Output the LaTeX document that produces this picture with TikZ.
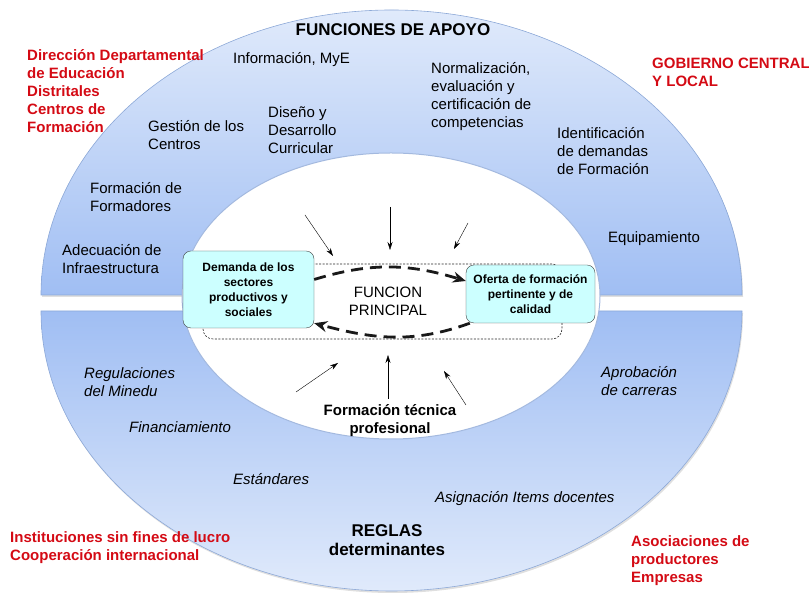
\documentclass[tikz,border=0pt]{standalone}
\usepackage{fontspec}
\setmainfont{Liberation Sans}
\usepackage{xcolor}
\usepackage{tikz}
\usetikzlibrary{arrows.meta, shadows}

\definecolor{ringlight}{RGB}{224,234,251}
\definecolor{ringdark}{RGB}{160,190,243}
\definecolor{ringedge}{RGB}{140,168,215}
\definecolor{boxfill}{RGB}{204,255,255}
\definecolor{actor}{RGB}{212,10,20}

\begin{document}
\begin{tikzpicture}[
    x=1pt, y=1pt,
    supportfont/.style={font=\fontsize{15}{18}\selectfont, align=left, anchor=west, inner sep=0pt},
    rulefont/.style={font=\fontsize{15}{18}\selectfont\itshape, align=left, anchor=west, inner sep=0pt},
    actorlabel/.style={font=\fontsize{15}{18}\selectfont\bfseries, text=actor, align=left, anchor=west, inner sep=0pt},
    headline/.style={font=\fontsize{17}{19}\selectfont\bfseries, align=center, inner sep=0pt},
    flowbox/.style={rectangle, rounded corners=8pt, draw=black!75, fill=boxfill, align=center, font=\fontsize{12}{15}\selectfont\bfseries, inner sep=2pt},
    ring/.style={draw=ringedge, line width=0.6pt},
    arrow/.style={->, >={Stealth[length=8pt,width=5pt]}, thin},
    flowarrow/.style={->, >={Stealth[length=13pt,width=11pt]}, line width=2.8pt, dash pattern=on 12pt off 7pt, black!90}
]
\useasboundingbox (0,0) rectangle (809,593);

%==============================================================================
% Outer ring: support functions (top) and rules (bottom)
%==============================================================================
\shade[ring, top color=ringlight, bottom color=ringdark,
       drop shadow={shadow xshift=1pt, shadow yshift=-2pt, opacity=0.25}]
    (41,298) arc[start angle=180, end angle=0, x radius=350.5, y radius=285] -- cycle;
\shade[ring, top color=ringdark, bottom color=ringlight,
       drop shadow={shadow xshift=1pt, shadow yshift=-2pt, opacity=0.25}]
    (41,282) arc[start angle=180, end angle=360, x radius=350.5, y radius=280] -- cycle;

% Inner core
\draw[draw=ringedge!80, fill=white, line width=1pt] (391,297) ellipse [x radius=209, y radius=143];

%==============================================================================
% Support functions
%==============================================================================
\node[headline] (apoyo) at (393,563) {FUNCIONES DE APOYO};

\node[supportfont] (info) at (233,533) {Información, MyE};
\node[supportfont] (norma) at (431,496) {Normalización,\\evaluación y\\certificación de\\competencias};
\node[supportfont] (gestion) at (148,458) {Gestión de los\\Centros};
\node[supportfont] (diseno) at (268,463) {Diseño y\\Desarrollo\\Curricular};
\node[supportfont] (identif) at (557,442) {Identificación\\de demandas\\de Formación};
\node[supportfont] (formad) at (90,396) {Formación de\\Formadores};
\node[supportfont] (equipo) at (608,354) {Equipamiento};
\node[supportfont] (adecua) at (62,334) {Adecuación de\\Infraestructura};

%==============================================================================
% Determining rules
%==============================================================================
\node[rulefont] (regula) at (84,211) {Regulaciones\\del Minedu};
\node[rulefont] (financ) at (129,166) {Financiamiento};
\node[rulefont] (estand) at (233,114) {Estándares};
\node[rulefont] (asigna) at (435,94) {Asignación Items docentes};
\node[rulefont] (aproba) at (601,212) {Aprobación\\de carreras};

\node[headline] (reglas) at (387,53) {REGLAS\\determinantes};

%==============================================================================
% Actors
%==============================================================================
\node[actorlabel] (direccion) at (27,502) {Dirección Departamental\\de Educación\\Distritales\\Centros de\\Formación};
\node[actorlabel] (gobierno) at (652,521) {GOBIERNO CENTRAL\\Y LOCAL};
\node[actorlabel] (instit) at (10,45) {Instituciones sin fines de lucro\\Cooperación internacional};
\node[actorlabel] (asocia) at (631,32) {Asociaciones de\\productores\\Empresas};

%==============================================================================
% Main function
%==============================================================================
\node[draw=black!85, line width=0.6pt, dash pattern=on 2pt off 1.5pt, rounded corners=10pt,
      minimum width=359pt, minimum height=75pt] (ciclo) at (382.5,291.5) {};

\node[flowbox, minimum width=131pt, minimum height=77pt] (demanda) at (248.5,303.5)
    {Demanda de los\\sectores\\productivos y\\sociales};
\node[flowbox, minimum width=129pt, minimum height=58pt] (oferta) at (530.5,299)
    {Oferta de formación\\pertinente y de\\calidad};

\node[font=\fontsize{15}{18}\selectfont, align=center] (funcion) at (388,292) {FUNCION\\PRINCIPAL};
\node[font=\fontsize{15}{18}\selectfont\bfseries, align=center] (tecnica) at (390,172) {Formación técnica\\profesional};

% Cycle between demand and offer
\draw[flowarrow] ([yshift=10pt]demanda.east) to[out=17, in=163] ([yshift=13pt]oferta.west);
\draw[flowarrow] ([xshift=4pt]oferta.south west) to[out=200, in=-15] ([yshift=5pt]demanda.south east);

% Influences from support functions
\coordinate (s1) at (305,378); \coordinate (e1) at (333,337);
\coordinate (s2) at (390,386); \coordinate (e2) at (390,343);
\coordinate (s3) at (468,370); \coordinate (e3) at (454,344);
\draw[arrow] (s1) -- (e1);
\draw[arrow] (s2) -- (e2);
\draw[arrow] (s3) -- (e3);

% Influences from technical training
\coordinate (s4) at (296,201); \coordinate (e4) at (338,230);
\coordinate (s5) at (388,194); \coordinate (e5) at (388,238);
\coordinate (s6) at (466,188); \coordinate (e6) at (444,222);
\draw[arrow] (s4) -- (e4);
\draw[arrow] (s5) -- (e5);
\draw[arrow] (s6) -- (e6);

\end{tikzpicture}
\end{document}
